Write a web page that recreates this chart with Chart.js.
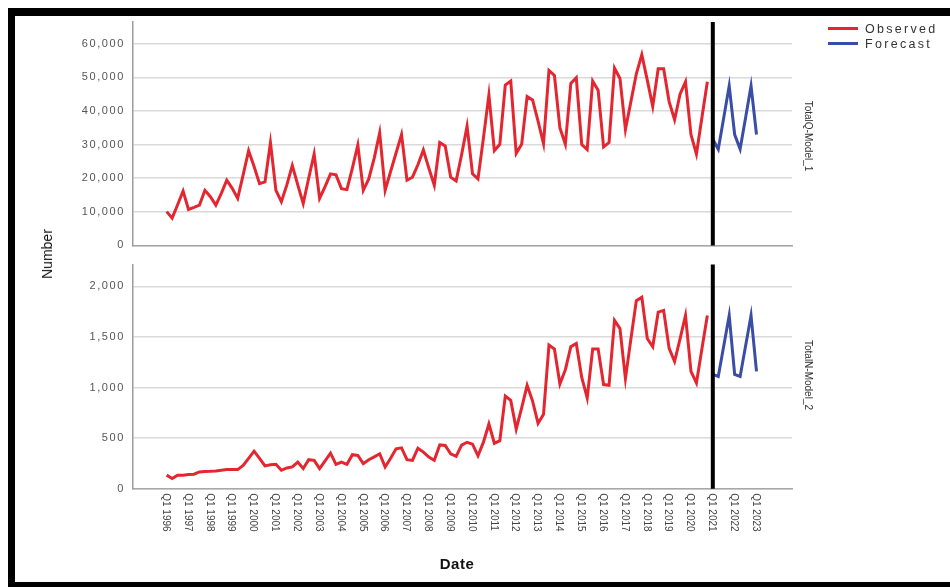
<!DOCTYPE html>
<html>
<head>
<meta charset="utf-8">
<script src="https://cdn.jsdelivr.net/npm/chart.js@4/dist/chart.umd.min.js"></script>
<style>
  html, body { margin: 0; padding: 0; background: #fff; width: 950px; height: 587px; overflow: hidden; }
  #frame { position: absolute; left: 8px; top: 8px; width: 960px; height: 579px; box-sizing: border-box;
           border-top: 8px solid #000; border-left: 7px solid #000; border-bottom: 5px solid #000; }
  canvas { position: absolute; left: 0; }
  #panelQ { top: 0; }
  #panelN { top: 250px; }
  .txt { position: absolute; font-family: "Liberation Sans", Arial, sans-serif; white-space: nowrap; }
  .rotL { transform: translate(-50%, -50%) rotate(-90deg); }
  .vert { writing-mode: vertical-rl; transform: translate(-50%, -50%); }
  .swatch { position: absolute; height: 3px; width: 30px; }
</style>
</head>
<body>
<div id="frame"></div>
<canvas id="panelQ" width="950" height="260"></canvas>
<canvas id="panelN" width="950" height="337"></canvas>

<div class="txt rotL" style="left:47px; top:254px; font-size:14px; color:#111;">Number</div>
<div class="txt" style="left:457px; top:563px; transform:translate(-50%,-50%); font-size:15px; font-weight:bold; color:#111; letter-spacing:0.5px;">Date</div>
<div class="txt vert" style="left:808px; top:136px; font-size:10px; color:#333;">TotalQ-Model_1</div>
<div class="txt vert" style="left:808px; top:375px; font-size:10px; color:#333;">TotalN-Model_2</div>

<div class="swatch" style="left:828px; top:27px; background:#e3262f;"></div>
<div class="txt" style="left:865px; top:29px; transform:translateY(-50%); font-size:12.5px; color:#333; letter-spacing:2.3px;">Observed</div>
<div class="swatch" style="left:828px; top:41.5px; background:#3a4ea6;"></div>
<div class="txt" style="left:865px; top:44px; transform:translateY(-50%); font-size:12.5px; color:#333; letter-spacing:2.3px;">Forecast</div>

<script>
// Quarterly series, Q1 1996 .. Q4 2020 observed, Q1 2021 .. Q1 2023 forecast
const tickLabels = [
  'Q1 1996','Q1 1997','Q1 1998','Q1 1999','Q1 2000','Q1 2001','Q1 2002','Q1 2003','Q1 2004','Q1 2005',
  'Q1 2006','Q1 2007','Q1 2008','Q1 2009','Q1 2010','Q1 2011','Q1 2012','Q1 2013','Q1 2014','Q1 2015',
  'Q1 2016','Q1 2017','Q1 2018','Q1 2019','Q1 2020','Q1 2021','Q1 2022','Q1 2023'
];

const observedQ = [
  10060, 8100, 12100, 16200,   10700, 11300, 12000, 16400,   14500, 12000, 15500, 19400,
  17000, 14000, 21000, 28200,  23500, 18400, 18900, 30600,   16400, 13000, 18000, 23800,
  18000, 12500, 20000, 27200,  14000, 17500, 21300, 21000,   16900, 16600, 23000, 29900,
  16400, 19800, 26000, 33500,  16400, 22000, 27500, 33000,   19400, 20300, 24000, 28400,
  23000, 17900, 30600, 29600,  20300, 19200, 27000, 35500,   21300, 19800, 32000, 44800,
  28200, 30100, 47700, 48900,  27400, 30100, 44300, 43300,   37000, 30300, 52100, 50600,
  35000, 30100, 48200, 49900,  30000, 28500, 48900, 46200,   29300, 30600, 52800, 49700,
  34500, 42800, 51100, 56800,  49200, 41400, 52600, 52600,   42800, 37400, 45000, 48700,
  33000, 27200, 38000, 48700
];
const forecastQ = [31600, 28600, 38000, 47500, 33000, 28700, 38000, 47500, 33000];

const observedN = [
  134, 101, 134, 134,   140, 143, 166, 170,   172, 176, 182, 189,
  189, 189, 231, 300,   371, 300, 225, 236,   241, 182, 205, 215,
  263, 199, 287, 280,   199, 275, 351, 241,   263, 241, 336, 329,
  248, 287, 315, 345,   215, 300, 394, 404,   287, 280, 400, 362,
  312, 280, 433, 427,   345, 320, 430, 459,   440, 325, 460, 640,
  449, 475, 915, 873,   590, 800, 1022, 866,  645, 736, 1420, 1381,
  1035, 1176, 1403, 1436, 1100, 898, 1381, 1381, 1029, 1022, 1664, 1582,
  1088, 1480, 1859, 1892, 1484, 1403, 1745, 1762, 1387, 1257, 1480, 1713,
  1159, 1045, 1380, 1713
];
const forecastN = [1130, 1110, 1410, 1713, 1130, 1110, 1410, 1713, 1160];

const yTicksQ = [0, 10000, 20000, 30000, 40000, 50000, 60000];
const yTicksN = [0, 500, 1000, 1500, 2000];

const forecastStart = observedQ.length;   // index of Q1 2021
const RED = '#e3262f';
const BLUE = '#3a4ea6';

function toPoints(values, offset) {
  return values.map((v, i) => ({ x: offset + i, y: v }));
}

// Wide-tracked tick labels on the value axes
const trackingPlugin = {
  id: 'tracking',
  beforeDraw(chart) { chart.ctx.letterSpacing = '1.6px'; },
  beforeDatasetsDraw(chart) { chart.ctx.letterSpacing = '0px'; }
};

// Black rule at the start of the forecast horizon
const dividerPlugin = {
  id: 'forecastDivider',
  afterDatasetsDraw(chart) {
    const { ctx, chartArea: a, scales: { x } } = chart;
    const px = x.getPixelForValue(forecastStart);
    ctx.save();
    ctx.strokeStyle = '#000';
    ctx.lineWidth = 4;
    ctx.beginPath();
    ctx.moveTo(px, a.top);
    ctx.lineTo(px, a.bottom);
    ctx.stroke();
    ctx.restore();
  }
};

// Date labels read top-to-bottom under the lower panel
const quarterLabelPlugin = {
  id: 'quarterLabels',
  afterDraw(chart) {
    const { ctx, chartArea: a, scales: { x } } = chart;
    ctx.save();
    ctx.letterSpacing = '0px';
    ctx.font = '10px "Liberation Sans Narrow", "Liberation Sans", Arial, sans-serif';
    ctx.fillStyle = '#444';
    ctx.textAlign = 'left';
    ctx.textBaseline = 'middle';
    tickLabels.forEach((label, k) => {
      const px = x.getPixelForValue(k * 4);
      ctx.save();
      ctx.translate(px - 1, a.bottom + 4.5);
      ctx.rotate(Math.PI / 2);
      ctx.fillText(label, 0, 0);
      ctx.restore();
    });
    ctx.restore();
  }
};

function makePanel(id, observed, forecast, yMax, yTicks, padTop, padBottom, extra) {
  return new Chart(document.getElementById(id), {
    type: 'line',
    data: {
      datasets: [
        { label: 'Observed', data: toPoints(observed, 0), borderColor: RED, borderWidth: 3,
          pointRadius: 0, tension: 0, fill: false },
        { label: 'Forecast', data: toPoints(forecast, forecastStart), borderColor: BLUE, borderWidth: 3,
          pointRadius: 0, tension: 0, fill: false }
      ]
    },
    options: {
      responsive: false,
      animation: false,
      devicePixelRatio: 1,
      layout: { padding: { left: 0, right: 158, top: padTop, bottom: padBottom } },
      plugins: { legend: { display: false }, tooltip: { enabled: false } },
      scales: {
        x: {
          type: 'linear', min: -6.17, max: 114.5,
          ticks: { display: false },
          grid: { display: false },
          border: { display: true, color: '#a8a8a8', width: 1.5 },
          afterFit(s) { s.height = 0; }
        },
        y: {
          min: 0, max: yMax,
          afterBuildTicks(axis) { axis.ticks = yTicks.map(v => ({ value: v })); },
          ticks: {
            color: '#555', padding: 8,
            font: { family: '"Liberation Sans", Arial, sans-serif', size: 11 },
            callback: v => v.toLocaleString('en-US')
          },
          grid: { color: '#dadada', lineWidth: 1.5, drawTicks: false },
          border: { display: true, color: '#9c9c9c', width: 1.5 },
          afterFit(s) { s.width = 133; }
        }
      }
    },
    plugins: [trackingPlugin, dividerPlugin].concat(extra)
  });
}

makePanel('panelQ', observedQ, forecastQ, 66500, yTicksQ, 22, 10.5, []);
makePanel('panelN', observedN, forecastN, 2215, yTicksN, 11.7, 98.3, [quarterLabelPlugin]);
</script>
</body>
</html>
